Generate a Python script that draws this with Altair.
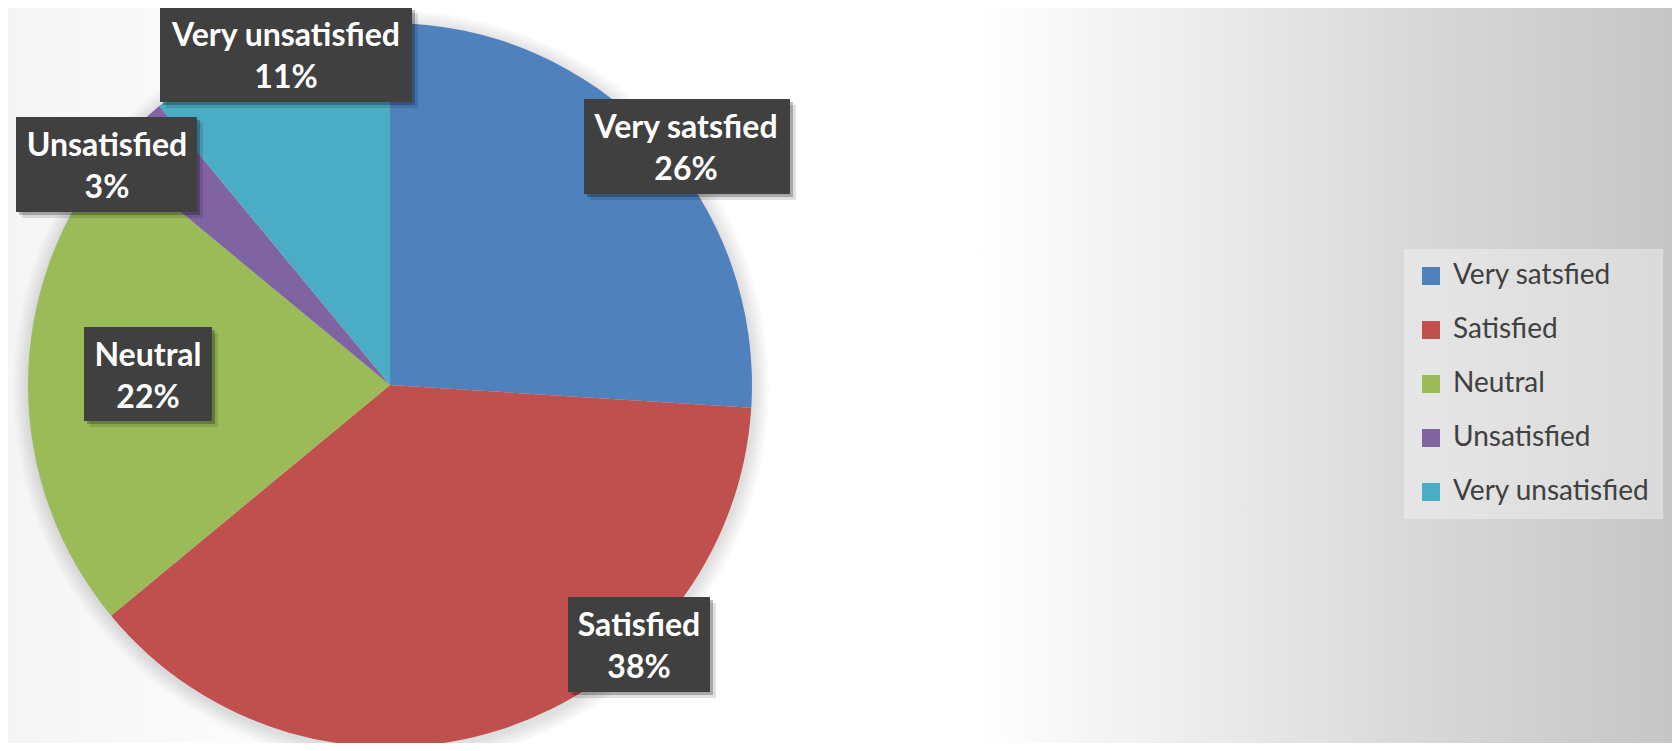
import altair as alt
import pandas as pd

# ---- data ----
categories = ["Very satsfied", "Satisfied", "Neutral", "Unsatisfied", "Very unsatisfied"]
values = [26, 38, 22, 3, 11]
colors = ["#4F81BD", "#C0504D", "#9BBB59", "#8064A2", "#4BACC6"]

# ---- layout (page pixel coordinates of the data-label boxes) ----
OFF = 8  # page margin
box_left = [584, 568, 84, 16, 160]
box_top = [99, 597, 327, 117, 7]
box_right = [790, 710, 212, 197, 412]
box_bottom = [194, 692, 421, 212, 102]
text_cx = [686, 639, 148, 107, 286]

W, H = 1664, 735
CX, CY, R = 390 - OFF, 385 - OFF, 362

pie_df = pd.DataFrame({"cat": categories, "value": values, "idx": list(range(len(values)))})

lab_df = pd.DataFrame({
    "cat": categories,
    "pct": [f"{v}%" for v in values],
    "bx1": [v - OFF for v in box_left],
    "bx2": [v - OFF for v in box_right],
    "by1": [v - OFF for v in box_top],
    "by2": [v - OFF for v in box_bottom],
    "tx": [v - OFF for v in text_cx],
})
lab_df["ty1"] = lab_df["by1"] + 39
lab_df["ty2"] = lab_df["by1"] + 81

noaxis = dict(scale=None, axis=None)
one = pd.DataFrame({"a": [0]})


def hgrad(stops):
    return {
        "gradient": "linear",
        "x1": 0, "y1": 0, "x2": 1, "y2": 0,
        "stops": [{"offset": o, "color": c} for o, c in stops],
    }


# background: light grey at far left, white middle, grey towards the right
bg_base = alt.Chart(one).mark_rect(color="#ffffff").encode(
    x=alt.value(0), x2=alt.value(W), y=alt.value(0), y2=alt.value(H)
)
bg_left = alt.Chart(one).mark_rect(
    color=hgrad([(0.0, "#f5f5f5"), (0.5, "#fbfbfb"), (1.0, "#ffffff")])
).encode(x=alt.value(0), x2=alt.value(420 - OFF), y=alt.value(0), y2=alt.value(H))

bg_right = alt.Chart(one).mark_rect(
    color=hgrad([(0.0, "#ffffff"), (0.34, "#ebebeb"), (0.62, "#d9d9d9"),
                 (0.9, "#cbcbcb"), (1.0, "#c6c6c6")])
).encode(x=alt.value(975 - OFF), x2=alt.value(W), y=alt.value(0), y2=alt.value(H))

# soft shadow around the pie (stacked translucent discs)
shadow_layers = [
    alt.Chart(one).mark_arc(radius=R + k, theta=0, theta2=6.2832,
                            color="black", opacity=0.016).encode(
        x=alt.value(CX + 1), y=alt.value(CY + 3)
    )
    for k in (2, 4, 6, 8, 10, 12, 14, 16)
]

pie = alt.Chart(pie_df).mark_arc(outerRadius=R).encode(
    theta=alt.Theta("value:Q", stack=True),
    color=alt.Color(
        "cat:N",
        scale=alt.Scale(domain=categories, range=colors),
        sort=categories,
        legend=alt.Legend(
            title=None,
            orient="none",
            legendX=1404 - OFF,
            legendY=249 - OFF,
            symbolType="square",
            symbolSize=324,
            symbolStrokeWidth=0,
            symbolOpacity=1,
            labelFont="Lato",
            labelFontSize=28,
            labelColor="#404040",
            labelOffset=8,
            rowPadding=26,
            padding=13,
            fillColor="rgba(255,255,255,0.35)",
            labelLimit=400,
        ),
    ),
    order=alt.Order("idx:Q"),
    x=alt.value(CX),
    y=alt.value(CY),
)

box_sh1 = alt.Chart(lab_df).mark_rect(color="black", opacity=0.12).encode(
    x=alt.X("sx1:Q", **noaxis), x2="sx2:Q", y=alt.Y("sy1:Q", **noaxis), y2="sy2:Q"
).transform_calculate(
    sx1="datum.bx1 + 6", sx2="datum.bx2 + 6", sy1="datum.by1 + 6", sy2="datum.by2 + 6"
)
box_sh2 = alt.Chart(lab_df).mark_rect(color="black", opacity=0.25).encode(
    x=alt.X("sx1:Q", **noaxis), x2="sx2:Q", y=alt.Y("sy1:Q", **noaxis), y2="sy2:Q"
).transform_calculate(
    sx1="datum.bx1 + 3", sx2="datum.bx2 + 3", sy1="datum.by1 + 3", sy2="datum.by2 + 3"
)
boxes = alt.Chart(lab_df).mark_rect(color="#404040").encode(
    x=alt.X("bx1:Q", **noaxis), x2="bx2:Q", y=alt.Y("by1:Q", **noaxis), y2="by2:Q"
)
txt_style = dict(font="Lato", fontWeight="bold", fontSize=32, color="white",
                 align="center", baseline="alphabetic")
t1 = alt.Chart(lab_df).mark_text(**txt_style).encode(
    x=alt.X("tx:Q", **noaxis), y=alt.Y("ty1:Q", **noaxis), text="cat:N"
)
t2 = alt.Chart(lab_df).mark_text(**txt_style).encode(
    x=alt.X("tx:Q", **noaxis), y=alt.Y("ty2:Q", **noaxis), text="pct:N"
)

chart = alt.layer(bg_base, bg_left, bg_right, *shadow_layers, pie,
                  box_sh1, box_sh2, boxes, t1, t2).properties(
    width=W, height=H, autosize=alt.AutoSizeParams(type="none"), padding=0,
    background="#ffffff",
).configure_view(stroke=None)

chart.save("out.html", embed_options={"renderer": "svg", "actions": False})
